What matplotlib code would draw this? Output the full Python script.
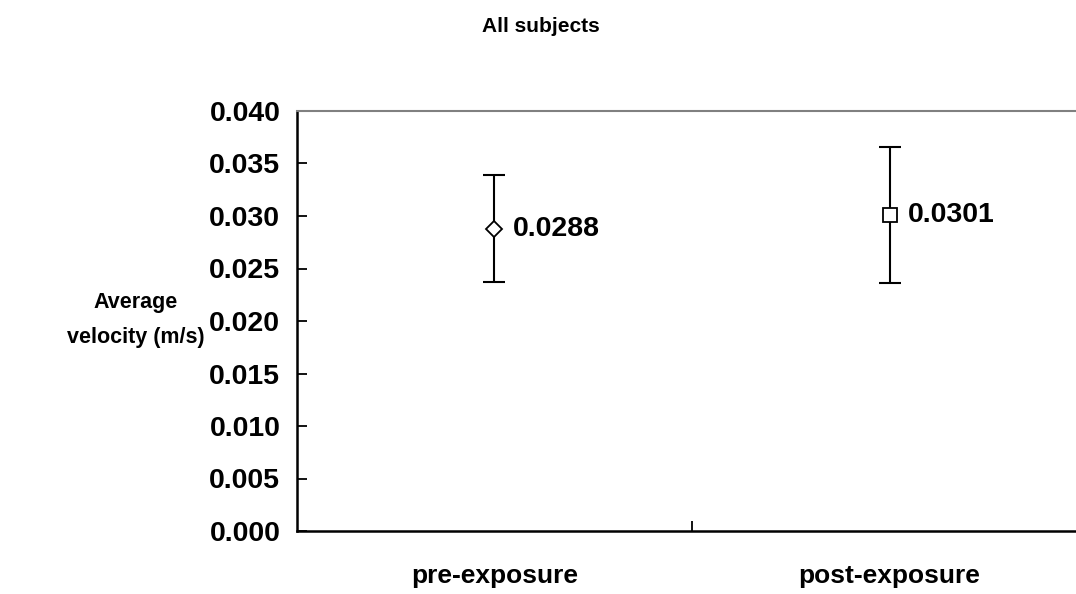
import matplotlib
matplotlib.use("Agg")
import matplotlib.pyplot as plt

plt.rcParams['font.family'] = ['Liberation Sans', 'DejaVu Sans']
plt.rcParams['font.weight'] = 'bold'

groups = ["pre-exposure", "post-exposure"]
means = [0.0288, 0.0301]
errors = [0.0051, 0.0065]
markers = ["D", "s"]
labels = ["0.0288", "0.0301"]
yticks = [0.000, 0.005, 0.010, 0.015, 0.020, 0.025, 0.030, 0.035, 0.040]

fig = plt.figure(figsize=(10.76, 5.94), dpi=100)
ax = fig.add_axes([297/1076, 1-531/594, 790/1076, 420/594])

xs = [0.5, 1.5]
for x, m, e, mk, lab in zip(xs, means, errors, markers, labels):
    ax.errorbar(x, m, yerr=e, fmt="none", ecolor="black", elinewidth=1.5,
                capsize=8, capthick=1.5, zorder=2)
    ax.plot(x, m, marker=mk, markersize=8 if mk == "D" else 10, mfc="white",
            mec="black", mew=1.3, linestyle="none", zorder=3)
    ax.annotate(lab, (x, m), xytext=(13, 0), textcoords="offset points",
                ha="left", va="center", fontsize=20.5, fontweight="bold")

ax.set_xlim(0, 2)
ax.set_ylim(0, 0.04)
ax.set_yticks(yticks)
ax.set_yticklabels([f"{t:.3f}" for t in yticks])
ax.set_xticks([1])
ax.set_xticklabels([""])
ax.set_xticks(xs, minor=True)
ax.set_xticklabels(groups, minor=True)
ax.tick_params(axis="x", which="minor", length=0, pad=24, labelsize=19)
ax.tick_params(axis="x", which="major", direction="in", length=7, width=1.3)
ax.tick_params(axis="y", direction="in", length=7, width=1.3, labelsize=20.5, pad=12)

ax.spines["left"].set_linewidth(1.8)
ax.spines["bottom"].set_linewidth(1.8)
ax.spines["top"].set_color("#808080")
ax.spines["top"].set_linewidth(1.5)
ax.spines["right"].set_visible(False)

fig.text(136/1076, 1-320/594, "Average\nvelocity (m/s)", ha="center", va="center",
         fontsize=15.5, fontweight="bold", linespacing=1.9)
fig.text(541/1076, 1-27/594, "All subjects", ha="center", va="center",
         fontsize=15, fontweight="bold")

fig.savefig("out.png", dpi=100)
